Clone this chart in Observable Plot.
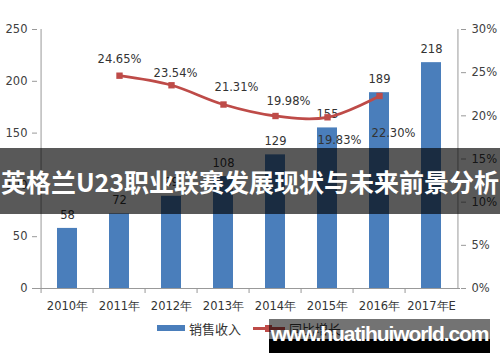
<!DOCTYPE html>
<html><head><meta charset="utf-8">
<script src="https://cdn.jsdelivr.net/npm/d3@7"></script>
<script src="https://cdn.jsdelivr.net/npm/@observablehq/plot@0.6"></script>
<style>
body{margin:0;background:#fff;}
#wrap{position:relative;width:500px;height:362px;overflow:hidden;font-family:"DejaVu Sans","Noto Sans CJK SC",sans-serif;background:#fff;}
#chart{position:absolute;left:0;top:0;}
.leg{position:absolute;top:319px;height:18px;display:flex;align-items:center;font-size:13px;color:#333;font-family:"Noto Sans CJK SC",sans-serif;}
.sw{display:inline-block;width:28px;height:6px;margin-right:4px;}
.ln{position:relative;display:inline-block;width:32px;height:3px;margin-right:4px;}
.ln i{position:absolute;left:12px;top:-2px;width:7px;height:7px;}
#banner{position:absolute;left:0;top:148px;width:500px;height:66px;background:rgba(0,0,0,0.65);color:#fff;font-family:"Noto Sans CJK SC",sans-serif;font-weight:bold;font-size:25px;line-height:66px;text-align:center;white-space:nowrap;}
#wm{position:absolute;left:269px;top:319px;width:221px;height:34px;}
#wm .t{position:absolute;left:0;top:0;width:100%;height:20px;background:rgba(0,0,0,0.55);}
#wm .b{position:absolute;left:0;top:20px;width:100%;height:14px;background:#000;}
#wm span{position:absolute;left:0;width:100%;top:2px;text-align:center;color:#fff;font-family:"Liberation Sans",Arial,sans-serif;font-weight:bold;font-size:21px;letter-spacing:-1.1px;line-height:26px;}
</style></head><body>
<div id="wrap">
<div id="chart"></div>
<div class="leg" id="leg1" style="left:157px"></div>
<div class="leg" id="leg2" style="left:253px"></div>
<div id="banner"></div>
<div id="wm"><div class="t"></div><div class="b"></div><span id="wmtext"></span></div>
</div>
<script>
const years = ["2010年","2011年","2012年","2013年","2014年","2015年","2016年","2017年E"];
const sales = [58,72,89,108,129,155,189,218];
const growthYears = ["2011年","2012年","2013年","2014年","2015年","2016年"];
const growth = [24.65,23.54,21.31,19.98,19.83,22.30];
const leftTicks = [0,50,100,150,200,250];
const rightTicks = [0,5,10,15,20,25,30];
const seriesNames = ["销售收入","同比增长"];
const title = "英格兰U23职业联赛发展现状与未来前景分析";
const watermark = "www.huatihuiworld.com";

// styling
const blue = "#4a7ebb", red = "#be4b48", axisGray = "#999";
const labelOffsets = [[0,-16],[4,-12],[13,-17],[13,-15],[12,23],[14,37]];

const yMax = 250, rMax = 30;
const toLeft = p => p * yMax / rMax;
const barData = years.map((y,i)=>({year:y, value:sales[i]}));
const lineData = growthYears.map((y,i)=>({year:y, g:growth[i], v:toLeft(growth[i])}));
const W = 500, mL = 37, mR = 40;
const step = (W - mL - mR) / years.length;

const plot = Plot.plot({
  width: W, height: 318, marginLeft: mL, marginRight: mR, marginTop: 29, marginBottom: 30,
  style: {fontFamily: "DejaVu Sans, sans-serif", fontSize: "11.5px", color: "#404040", background: "transparent"},
  x: {domain: years, paddingInner: 0.62, paddingOuter: 0.31, label: null},
  y: {domain: [0, yMax], label: null},
  marks: [
    Plot.barY(barData, {x: "year", y: "value", fill: blue}),
    Plot.ruleY([0], {stroke: axisGray}),
    Plot.ruleX(years, {x: d => d, y1: 0, y2: -5 * yMax / 259, dx: -step/2, stroke: axisGray}),
    Plot.ruleX([years[0]], {x: d => d, y1: 0, y2: yMax, dx: -step/2, stroke: axisGray}),
    Plot.ruleX([years[years.length-1]], {x: d => d, y1: 0, y2: yMax, dx: step/2, stroke: axisGray}),
    Plot.axisY(leftTicks, {anchor: "left", tickSize: 5, tickPadding: 5, stroke: axisGray, fill: "#404040", label: null}),
    Plot.axisY(rightTicks.map(toLeft), {anchor: "right", tickSize: 5, tickPadding: 6, stroke: axisGray, fill: "#404040", label: null,
      tickFormat: d => Math.round(d * rMax / yMax) + "%"}),
    Plot.axisX({tickSize: 0, tickPadding: 13, fill: "#333", label: null}),
    Plot.text(barData, {x: "year", y: "value", text: d => String(d.value), dy: -13.5, fill: "#333", fontSize: 11.5}),
    Plot.line(lineData, {x: "year", y: "v", stroke: red, strokeWidth: 2.8, curve: "catmull-rom"}),
    Plot.dot(lineData, {x: "year", y: "v", symbol: "square", r: 3.6, fill: red, stroke: "none"}),
    ...lineData.map((d,i) => Plot.text([d], {x: "year", y: "v", text: e => e.g.toFixed(2) + "%", dx: labelOffsets[i][0], dy: labelOffsets[i][1], fill: "#333", fontSize: 11.5}))
  ]
});
document.getElementById("chart").appendChild(plot);

document.getElementById("leg1").innerHTML = `<span class="sw" style="background:${blue}"></span>${seriesNames[0]}`;
document.getElementById("leg2").innerHTML = `<span class="ln" style="background:${red}"><i style="background:${red}"></i></span>${seriesNames[1]}`;
document.getElementById("banner").textContent = title;
document.getElementById("wmtext").textContent = watermark;
</script>
</body></html>
